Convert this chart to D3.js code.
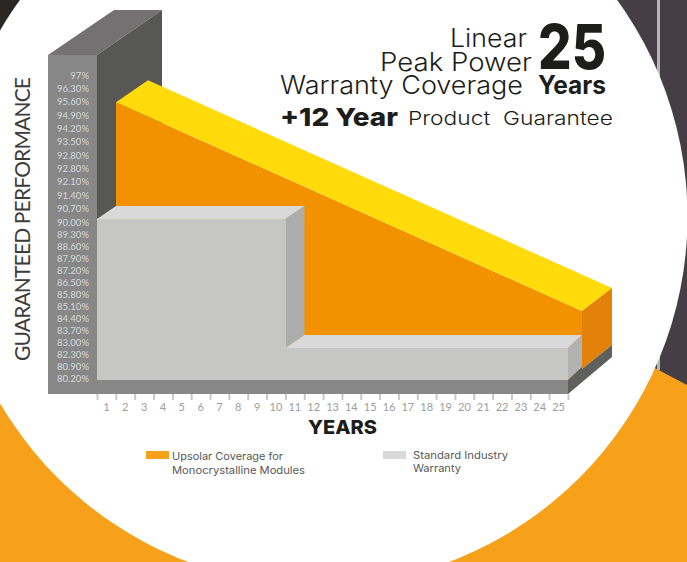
<!DOCTYPE html>
<html>
<head>
<meta charset="utf-8">
<script src="https://cdn.jsdelivr.net/npm/d3@7"></script>
<style>
  html, body { margin: 0; padding: 0; background: #fff; overflow: hidden; }
  svg { display: block; }
</style>
</head>
<body>
<div id="chart"></div>
<script>
const years = d3.range(1, 26);
const percentLabels = ["97%", "96.30%", "95.60%", "94.90%", "94.20%", "93.50%", "92.80%", "92.80%", "92.10%", "91.40%", "90.70%", "90.00%", "89.30%", "88.60%", "87.90%", "87.20%", "86.50%", "85.80%", "85.10%", "84.40%", "83.70%", "83.00%", "82.30%", "80.90%", "80.20%"];

// Upsolar wedge, back plane of the box: [year edge, percent]
const upsolarEdges = [0, 25];
const upsolarValues = [95.6, 84.4];

// Standard warranty step: [year edge, percent]
const standardEdges = [0, 10, 10, 25];
const standardValues = [90, 90, 82.15, 82.15];
const baseValue = 80.2;

const legendLabels = [
  ["Upsolar Coverage for", "Monocrystalline Modules"],
  ["Standard Industry", "Warranty"]
];

window.onload = function () {
  const W = 687, H = 562;
  const svg = d3.select("#chart").append("svg").attr("width", W).attr("height", H);

  // Background: dark photo, orange band, white circle over both
  svg.append("rect").attr("width", W).attr("height", H).attr("fill", "#453e44");
  svg.append("rect").attr("width", 30).attr("height", 40).attr("fill", "#2b2725");
  svg.append("rect").attr("x", 657).attr("y", 0).attr("width", 3).attr("height", 370).attr("fill", "#b9b6b8");
  svg.append("path")
    .attr("d", "M560,318L687,385V562H0V390Z")
    .attr("fill", "#f7a11a");
  svg.append("circle").attr("cx", 318.5).attr("cy", 216.8).attr("r", 369).attr("fill", "#fff");

  // Scales
  const x = d3.scaleLinear().domain([0, 25]).range([97, 568]);
  const y = d3.scaleLinear().domain([97, 90, 80.2]).range([73, 219, 380]);
  const yLabel = d3.scaleLinear().domain([0, 11, 24]).range([75, 222, 378]);
  const band = d3.scaleBand().domain(years).range([97, 568]);

  // Extrusion offsets of the 3D box
  const back = { dx: 19, dy: -13 };   // grey box depth
  const wedge = { dx: 32, dy: -22 };  // yellow top depth
  const poly = (pts, fill) =>
    svg.append("polygon").attr("points", pts.map((p) => p.join(",")).join(" ")).attr("fill", fill);

  const wallLeft = 48, wallTop = 55, wallBottom = 394;

  // Wall: top, inner side, front
  poly([[wallLeft, wallTop], [114, 10], [162, 10], [97, wallTop]], "#737171");
  poly([[97, wallTop], [162, 10], [162, 240], [97, 240]], "#575756");

  // Upsolar wedge
  const ux0 = x(upsolarEdges[0]) + back.dx, ux1 = x(upsolarEdges[1]) + 14;
  const uy0 = y(upsolarValues[0]), uy1 = y(upsolarValues[1]);
  const floorY = y(baseValue);
  poly([[ux0, uy0], [ux1, uy1], [ux1, floorY], [ux0, floorY]], "#f39200");
  poly([[ux0, uy0], [ux0 + wedge.dx, uy0 + wedge.dy], [ux1 + 30, uy1 + wedge.dy - 1], [ux1, uy1]], "#ffdb0c");
  poly([[ux1, uy1], [ux1 + 30, uy1 + wedge.dy - 1], [ux1 + 30, 345], [ux1, 369]], "#e2820a");

  // Standard warranty step
  const sx = standardEdges.map(x), sy = standardValues.map(y);
  poly([[sx[0], sy[0]], [sx[0] + back.dx, sy[0] + back.dy], [sx[1] + back.dx, sy[1] + back.dy], [sx[1], sy[1]]], "#d9d9d9");
  poly([[sx[1], sy[1]], [sx[1] + back.dx, sy[1] + back.dy], [sx[2] + back.dx, sy[2] + back.dy], [sx[2], sy[2]]], "#adadad");
  poly([[sx[2], sy[2]], [sx[2] + back.dx, sy[2] + back.dy], [sx[3] + 14, sy[3] + back.dy], [sx[3], sy[3]]], "#d9d9d9");
  poly([[sx[3], sy[3]], [sx[3] + 14, sy[3] + back.dy], [sx[3] + 14, floorY - 13], [sx[3], floorY]], "#b2b2b2");
  poly([[sx[0], sy[0]], [sx[1], sy[1]], [sx[2], sy[2]], [sx[3], sy[3]], [sx[3], floorY], [sx[0], floorY]], "#c6c6c5");
  svg.append("path")
    .attr("d", d3.line()(sx.slice(0, 3).map((v, i) => [v, sy[i]])))
    .attr("fill", "none")
    .attr("stroke", "#e3d3b8")
    .attr("stroke-width", 0.6);

  // Front frame and floor side
  poly([[wallLeft, wallTop], [97, wallTop], [97, floorY], [x(25), floorY], [x(25), wallBottom], [wallLeft, wallBottom]], "#878787");
  poly([[x(25), floorY], [x(25) + 14, floorY - 13], [x(25) + 14, 369], [612, 345], [612, 357], [x(25), wallBottom]], "#5f5f5d");

  // Y tick labels
  const yAxis = d3.axisLeft(yLabel)
    .tickValues(d3.range(percentLabels.length))
    .tickFormat((i) => percentLabels[i])
    .tickSize(0).tickPadding(0);
  const yG = svg.append("g").attr("transform", "translate(89,0)").call(yAxis);
  yG.select(".domain").remove();
  yG.selectAll("text")
    .attr("fill", "#d8d8d8")
    .style("font-family", "Lato, sans-serif")
    .style("font-size", "9.5px");

  // X axis, ticks at year edges and labels centred in the band
  const xTicks = d3.axisBottom(x).tickValues(d3.range(0, 26)).tickSize(6).tickFormat("");
  const xG = svg.append("g").attr("transform", `translate(0,${wallBottom})`).call(xTicks);
  xG.select(".domain").remove();
  xG.selectAll("line").attr("stroke", "#c8c8c8").attr("stroke-width", 2);

  const xLabels = d3.axisBottom(band).tickSize(0).tickPadding(0);
  const xlG = svg.append("g").attr("transform", "translate(0,403)").call(xLabels);
  xlG.select(".domain").remove();
  xlG.selectAll("text")
    .attr("fill", "#9d9d9c")
    .style("font-family", "Lato, sans-serif")
    .style("font-size", "11px");

  // Axis titles
  svg.append("text")
    .attr("transform", "translate(30,219) rotate(-90)")
    .attr("text-anchor", "middle")
    .attr("fill", "#3c3c3b")
    .attr("textLength", 284)
    .style("font-family", "Lato, sans-serif")
    .style("font-weight", 400)
    .style("font-size", "21px")
    .text("GUARANTEED PERFORMANCE");

  // Heading and other wide text, stretched to the measured width
  const wideText = [
    { t: "Linear", x: 450, y: 47, len: 77, s: 25, w: 300 },
    { t: "Peak Power", x: 380, y: 70.5, len: 152, s: 25, w: 300 },
    { t: "Warranty Coverage", x: 280, y: 94, len: 243, s: 25, w: 300 },
    { t: "25", x: 538, y: 69, len: 68, s: 62, w: 800 },
    { t: "Years", x: 538, y: 94, len: 68, s: 25, w: 700 },
    { t: "+12 Year", x: 280, y: 125.5, len: 118, s: 25, w: 800 },
    { t: "Product  Guarantee", x: 408, y: 125, len: 205, s: 19, w: 300 },
    { t: "YEARS", x: 308, y: 434, len: 69, s: 19, w: 800 }
  ];
  svg.append("g").selectAll("text").data(wideText).enter().append("text")
    .attr("x", (d) => d.x).attr("y", (d) => d.y)
    .attr("textLength", (d) => d.len)
    .attr("lengthAdjust", "spacingAndGlyphs")
    .attr("fill", "#1d1d1b")
    .style("white-space", "pre")
    .style("font-family", "Inter, sans-serif")
    .style("font-size", (d) => d.s + "px")
    .style("font-weight", (d) => d.w)
    .text((d) => d.t);

  // Legend
  const swatches = [
    { x: 146, fill: "#f7a11a", tx: 172, ty: 460, dy: 14, lens: [111, 133] },
    { x: 383, fill: "#d9d9d9", tx: 413, ty: 459, dy: 13, lens: [95, 48] }
  ];
  swatches.forEach((s, i) => {
    svg.append("rect").attr("x", s.x).attr("y", 451).attr("width", 23).attr("height", 8).attr("fill", s.fill);
    legendLabels[i].forEach((line, j) => {
      svg.append("text")
        .attr("x", s.tx).attr("y", s.ty + j * s.dy)
        .attr("textLength", s.lens[j])
        .attr("lengthAdjust", "spacingAndGlyphs")
        .attr("fill", "#575756")
        .style("font-family", "Inter, sans-serif")
        .style("font-size", "10.5px")
        .text(line);
    });
  });
};
</script>
</body>
</html>
